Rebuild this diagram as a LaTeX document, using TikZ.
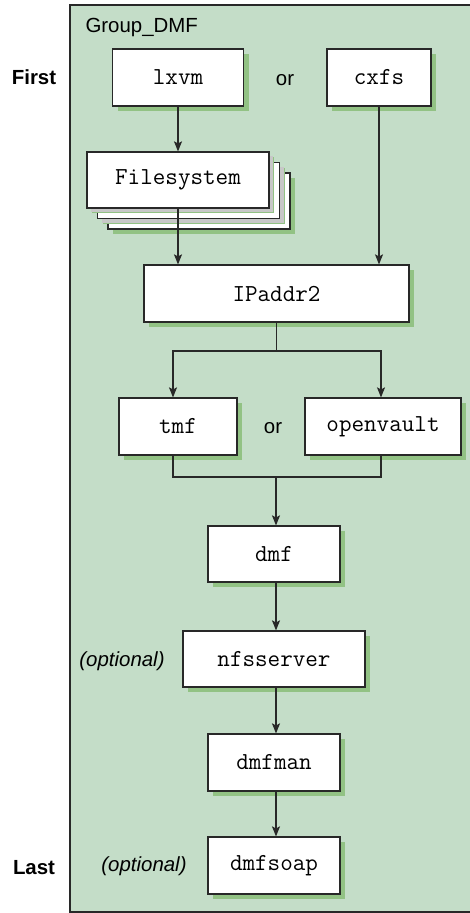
\documentclass[tikz,border=0pt]{standalone}
\usepackage{fontspec}
\setmainfont{Liberation Sans}
\usetikzlibrary{arrows.meta}
\usetikzlibrary{shadows}
\usetikzlibrary{positioning}

\definecolor{groupgreen}{RGB}{196,221,200}
\definecolor{shadowgreen}{RGB}{146,194,132}
\definecolor{edgegray}{RGB}{40,40,40}

\tikzset{
  res/.style={draw=edgegray, line width=1.2bp, fill=white, inner sep=0pt,
    minimum height=57bp, font=\fontsize{24.5}{26}\ttfamily,
    drop shadow={shadow xshift=5bp, shadow yshift=-5bp, fill=shadowgreen, opacity=1}},
  stackres/.style={res, drop shadow={shadow xshift=4bp, shadow yshift=-4bp, fill=black!22, opacity=1}},
  flow/.style={-{Stealth[length=10bp,width=8bp,inset=2bp]}, line width=1.2bp, draw=edgegray},
  link/.style={line width=1.2bp, draw=edgegray},
  lbl/.style={font=\fontsize{20.5}{23}\selectfont}
}

\begin{document}
\begin{tikzpicture}[x=1bp,y=-1bp]
\useasboundingbox (0,0) rectangle (470,913);
% Draw the group
\fill[groupgreen] (70,5) rectangle (470,912);
\draw[line width=1.2bp, draw=edgegray] (470,5) -- (70,5) -- (70,912) -- (470,912);
\node[lbl, anchor=west] at (82,27) (group) {Group\_DMF};
% Order labels
\node[lbl, font=\fontsize{20.5}{23}\bfseries] at (34,77) (first) {First};
\node[lbl, font=\fontsize{20.5}{23}\bfseries] at (34,868) (last) {Last};
% Resources
\node[res, minimum width=131bp] at (178,77.5) (lxvm) {lxvm};
\node[lbl] at (285,80) (or1) {or};
\node[res, minimum width=104bp] at (379,77.5) (cxfs) {cxfs};
\node[res, minimum width=182bp, minimum height=56bp] at (199,201) (fs3) {};
\node[stackres, minimum width=182bp, minimum height=56bp] at (188.5,190.5) (fs2) {};
\node[stackres, minimum width=182bp, minimum height=56bp] at (178,180) (fs) {Filesystem};
\node[res, minimum width=265bp] at (276.5,293.5) (ipaddr) {IPaddr2};
\node[res, minimum width=118bp] at (178,426.5) (tmf) {tmf};
\node[lbl] at (273,428) (or2) {or};
\node[res, minimum width=156bp] at (383,426.5) (openvault) {openvault};
\node[res, minimum width=132bp, minimum height=56bp] at (274,554) (dmf) {dmf};
\node[res, minimum width=182bp, minimum height=56bp] at (274,659) (nfsserver) {nfsserver};
\node[lbl, font=\fontsize{20.5}{23}\itshape] at (122,661) (opt1) {(optional)};
\node[res, minimum width=132bp] at (274,762.5) (dmfman) {dmfman};
\node[res, minimum width=132bp] at (274,865.5) (dmfsoap) {dmfsoap};
\node[lbl, font=\fontsize{20.5}{23}\itshape] at (144,866) (opt2) {(optional)};
% Connectors
\coordinate (split) at (276.5,351);
\coordinate (merge) at (276,477);
\draw[flow] (lxvm.south) -- (fs.north);
\draw[flow] (fs.south) -- (fs.south |- ipaddr.north);
\draw[flow] (cxfs.south) -- (cxfs.south |- ipaddr.north);
\draw[link] (ipaddr.south) -- (split);
\draw[flow] (split) -| ([xshift=-5bp]tmf.north);
\draw[flow] (split) -| ([xshift=-2bp]openvault.north);
\draw[link] ([xshift=-5bp]tmf.south) |- (merge);
\draw[link] ([xshift=-2bp]openvault.south) |- (merge);
\draw[flow] (merge) -- (merge |- dmf.north);
\draw[flow] (dmf.south -| merge) -- (merge |- nfsserver.north);
\draw[flow] (nfsserver.south -| merge) -- (merge |- dmfman.north);
\draw[flow] (dmfman.south -| merge) -- (merge |- dmfsoap.north);
\end{tikzpicture}
\end{document}
